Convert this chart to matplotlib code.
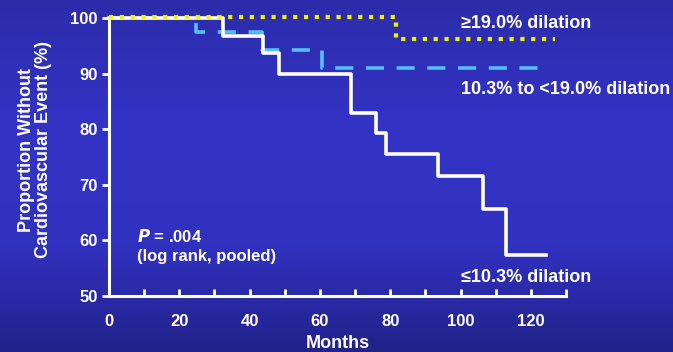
import numpy as np
import matplotlib
matplotlib.use('Agg')
import matplotlib.pyplot as plt
from matplotlib.colors import LinearSegmentedColormap

plt.rcParams['font.family'] = ['Liberation Sans', 'DejaVu Sans']
plt.rcParams['font.weight'] = 'bold'

# Kaplan-Meier step curves (months, % without event)
low_t = [0, 32.5, 43.7, 48.4, 68.9, 75.9, 78.7, 93.7, 106.5, 113.0, 124.3]
low_s = [100, 96.9, 93.8, 89.9, 82.9, 79.3, 75.6, 71.6, 65.7, 57.4, 57.4]

mid_t = [0, 24.8, 43.5, 60.5, 125.0]
mid_s = [100, 97.5, 94.3, 91.1, 91.1]

high_t = [0, 81.5, 127.0]
high_s = [100.2, 96.2, 96.2]

x_ticks = [0, 20, 40, 60, 80, 100, 120]
y_ticks = [50, 60, 70, 80, 90, 100]

fig = plt.figure(figsize=(6.73, 3.52), dpi=100)

# slide background: blue vertical gradient
bg = fig.add_axes([0, 0, 1, 1], zorder=-1)
cmap = LinearSegmentedColormap.from_list(
    'slide', [(0.0, '#2c2caa'), (0.35, '#3333c6'), (0.7, '#3131c0'), (1.0, '#22228a')])
bg.imshow(np.linspace(0, 1, 256).reshape(-1, 1), aspect='auto', cmap=cmap,
          extent=[0, 1, 0, 1])
bg.set_axis_off()

ax = fig.add_axes([109 / 673, 1 - 296 / 352, (566 - 109) / 673, (296 - 18.3) / 352])
ax.patch.set_alpha(0)

ax.step(low_t, low_s, where='post', color='white', lw=2.6, zorder=3, clip_on=False)
ax.step(mid_t, mid_s, where='post', color='#55c0f5', lw=2.6,
        dashes=(5, 3.5), zorder=2, clip_on=False)
ax.step(high_t, high_s, where='post', color='#f2f200', lw=3,
        dashes=(1, 1.6), zorder=4, clip_on=False)

ax.set_xlim(0, 130)
ax.set_ylim(50, 100)
ax.set_xticks(x_ticks)
ax.set_xticks(np.arange(0, 131, 10), minor=True)
ax.set_yticks(y_ticks)

for s in ['top', 'right']:
    ax.spines[s].set_visible(False)
for s in ['left', 'bottom']:
    ax.spines[s].set_color('white')
    ax.spines[s].set_linewidth(2.2)

ax.tick_params(axis='both', which='both', colors='white', width=2, labelsize=12)
ax.tick_params(axis='y', direction='out', length=5, pad=3)
ax.tick_params(axis='x', which='both', direction='in', length=5, pad=13)
for lab in ax.get_xticklabels() + ax.get_yticklabels():
    lab.set_fontweight('bold')

ax.set_xlabel('Months', color='white', fontsize=13, fontweight='bold', labelpad=4)
fig.text(0.052, 0.575, 'Proportion Without\nCardiovascular Event (%)',
         rotation=90, ha='center', va='center', color='white',
         fontsize=13, fontweight='bold', linespacing=1.05)

lbl = dict(color='white', fontsize=13, fontweight='bold', transform=fig.transFigure)
fig.text(461 / 673, 1 - 24 / 352, '\u226519.0% dilation', va='center', **lbl)
fig.text(461 / 673, 1 - 90 / 352, '10.3% to <19.0% dilation', va='center', **lbl)
fig.text(461 / 673, 1 - 277 / 352, '\u226410.3% dilation', va='center', **lbl)

fig.text(137 / 673, 1 - 237 / 352, r'$\bf{\it{P}}$ = .004', va='center',
         color='white', fontsize=12, fontweight='bold')
fig.text(137 / 673, 1 - 257 / 352, '(log rank, pooled)', va='center',
         color='white', fontsize=12, fontweight='bold')

fig.savefig('out.png', dpi=100)
